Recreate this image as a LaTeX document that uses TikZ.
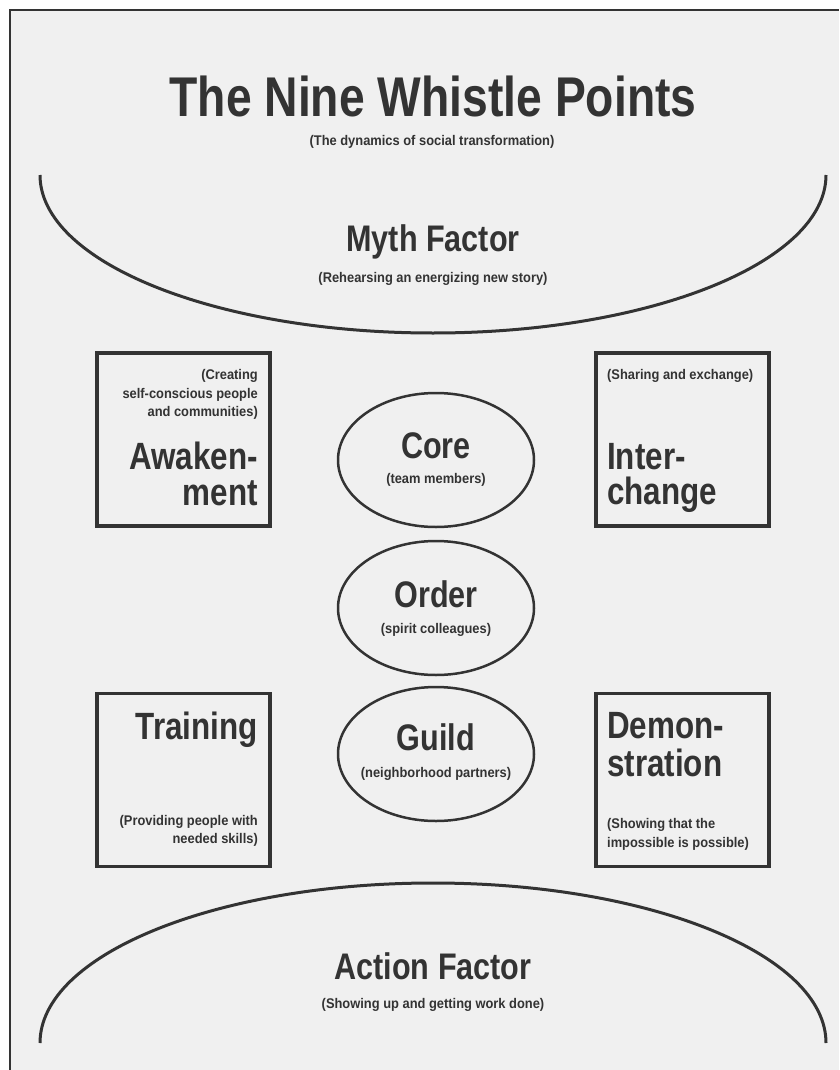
\documentclass[tikz,border=0pt]{standalone}
\usepackage{fontspec}
\setmainfont{Liberation Sans}
\newfontfamily\condfont{Liberation Sans}[FakeStretch=0.826]
\newfontfamily\notefont{Liberation Sans}[FakeStretch=0.92]
\usetikzlibrary{shapes.geometric}

\definecolor{ink}{HTML}{333333}
\definecolor{sfondo}{HTML}{F0F0F0}

\tikzset{
	titolo/.style={font=\condfont\bfseries\fontsize{56}{60}\selectfont, text=ink, inner sep=0},
	fattore/.style={font=\condfont\bfseries\fontsize{37}{40}\selectfont, text=ink, inner sep=0},
	punto/.style={font=\condfont\bfseries\fontsize{38}{40}\selectfont, text=ink, inner sep=0},
	nota/.style={font=\notefont\bfseries\fontsize{14}{16}\selectfont, text=ink, inner sep=0},
	scatola/.style={draw=ink, line width=3.5pt, minimum width=173pt, minimum height=173pt, inner sep=0},
	ovale/.style={ellipse, draw=ink, line width=2.5pt, minimum width=196pt, minimum height=134pt, inner sep=0},
	arco/.style={draw=ink, line width=3pt}
}

\begin{document}
\begin{tikzpicture}[x=1pt, y=-1pt]
			\useasboundingbox (0,0) rectangle (839,1070);
			\fill[white] (0,0) rectangle (839,1070);
			\fill[sfondo] (10,11) rectangle (839,1070);
			\draw[ink, line width=2pt] (9.5,1070) -- (9.5,10.5) -- (839,10.5);

			% Titolo
			\node[titolo, anchor=base] (tit) at (433,117) {The Nine Whistle Points};
			\node[nota, anchor=base] (sottotit) at (432,146) {(The dynamics of social transformation)};

			% Archi
			\draw[arco] (40,175) arc[start angle=180, end angle=0, x radius=393, y radius=158];
			\draw[arco] (40,1043) arc[start angle=180, end angle=360, x radius=393, y radius=160];

			\node[fattore, anchor=base] (myth) at (433,251) {Myth Factor};
			\node[nota, anchor=base] (mythN) at (433,282) {(Rehearsing an energizing new story)};

			\node[fattore, anchor=base] (action) at (433,979) {Action Factor};
			\node[nota, anchor=base] (actionN) at (433,1008) {(Showing up and getting work done)};

			% Scatole
			\node[scatola] (awaken) at (183.5,439.5) {};
			\node[scatola] (inter) at (682.5,439.5) {};
			\node[scatola] (train) at (183.5,780) {};
			\node[scatola] (demo) at (682.5,780) {};

			\node[nota, anchor=base east] (awakenN1) at (258,379) {(Creating};
			\node[nota, anchor=base east] (awakenN2) at (258,398) {self-conscious people};
			\node[nota, anchor=base east] (awakenN3) at (258,416) {and communities)};
			\node[punto, anchor=base east] (awakenT1) at (258,469) {Awaken-};
			\node[punto, anchor=base east] (awakenT2) at (258,505) {ment};

			\node[nota, anchor=base west] (interN) at (607,379) {(Sharing and exchange)};
			\node[punto, anchor=base west] (interT1) at (607,469) {Inter-};
			\node[punto, anchor=base west] (interT2) at (607,504) {change};

			\node[punto, anchor=base east] (trainT) at (258,739) {Training};
			\node[nota, anchor=base east] (trainN1) at (258,825) {(Providing people with};
			\node[nota, anchor=base east] (trainN2) at (258,843) {needed skills)};

			\node[punto, anchor=base west] (demoT1) at (607,738) {Demon-};
			\node[punto, anchor=base west] (demoT2) at (607,776) {stration};
			\node[nota, anchor=base west] (demoN1) at (607,828) {(Showing that the};
			\node[nota, anchor=base west] (demoN2) at (607,847) {impossible is possible)};

			% Ovali
			\node[ovale] (core) at (436,460) {};
			\node[ovale] (order) at (436,608) {};
			\node[ovale] (guild) at (436,754) {};

			\node[fattore, anchor=base] (coreT) at (436,458) {Core};
			\node[nota, anchor=base] (coreN) at (436,483) {(team members)};
			\node[fattore, anchor=base] (orderT) at (436,607) {Order};
			\node[nota, anchor=base] (orderN) at (436,633) {(spirit colleagues)};
			\node[fattore, anchor=base] (guildT) at (436,750) {Guild};
			\node[nota, anchor=base] (guildN) at (436,777) {(neighborhood partners)};

		\end{tikzpicture}
\end{document}
